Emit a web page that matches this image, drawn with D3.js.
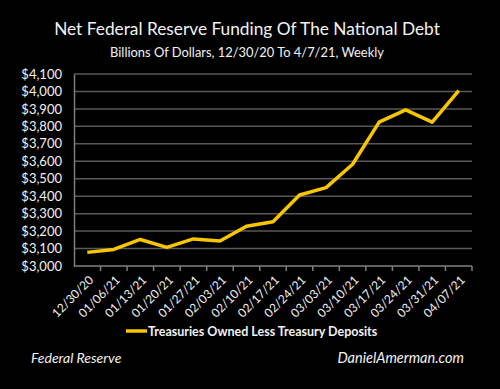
<!DOCTYPE html>
<html lang="en">
    <head>
        <meta charset="utf-8">
        <title>Net Federal Reserve Funding</title>
        <script type="text/javascript" src="https://cdn.jsdelivr.net/npm/d3@7"></script>
        <style>
            body { margin: 0; background: #000; }
            svg { display: block; font-family: Lato, "Open Sans", sans-serif; }
        </style>
    </head>
    <body>
        <div id="chart"></div>
        <script type="text/javascript">
            //Data
            var weeks = ["12/30/20", "01/06/21", "01/13/21", "01/20/21", "01/27/21", "02/03/21",
                "02/10/21", "02/17/21", "02/24/21", "03/03/21", "03/10/21", "03/17/21",
                "03/24/21", "03/31/21", "04/07/21"];
            var netFunding = [3078, 3095, 3152, 3107, 3155, 3143, 3228, 3254, 3407, 3449,
                3583, 3824, 3894, 3824, 4005];
            var yTicks = [3000, 3100, 3200, 3300, 3400, 3500, 3600, 3700, 3800, 3900, 4000, 4100];
            var seriesName = "Treasuries Owned Less Treasury Deposits";

            //Width and height ("top" is taken by window.top, so plot* names)
            var w = 500;
            var h = 389;
            var plotL = 74, plotR = 472, plotT = 74, plotB = 266;
            var yellow = "#f7c600";

            var svg = d3.select("#chart").append("svg").attr("width", w).attr("height", h);
            svg.append("rect").attr("width", w).attr("height", h).attr("fill", "#000");

            var x = d3.scaleBand().domain(weeks).range([plotL, plotR]);
            var y = d3.scaleLinear().domain([3000, 4100]).range([plotB, plotT]);

            //titles
            svg.append("text").text("Net Federal Reserve Funding Of The National Debt")
                .attr("x", 247).attr("y", 35)
                .attr("text-anchor", "middle").attr("font-size", "17.3px").attr("fill", "#f2f2f2");
            svg.append("text").text("Billions Of Dollars, 12/30/20 To 4/7/21, Weekly")
                .attr("x", 247).attr("y", 57)
                .attr("text-anchor", "middle").attr("font-size", "12.9px").attr("fill", "#f2f2f2");

            //gridlines
            svg.selectAll("line.grid")
                .data(yTicks.slice(1))
                .enter()
                .append("line")
                .attr("class", "grid")
                .attr("x1", plotL).attr("x2", plotR)
                .attr("y1", function(d) { return y(d); })
                .attr("y2", function(d) { return y(d); })
                .attr("stroke", "#595959").attr("stroke-width", 1.5);

            //y axis
            var yAxis = svg.append("g")
                .attr("transform", "translate(" + plotL + ",0)")
                .call(d3.axisLeft(y).tickValues(yTicks).tickSize(0).tickPadding(12)
                    .tickFormat(function(d) { return "$" + d3.format(",")(d); }));
            yAxis.select(".domain").attr("stroke", "#7f7f7f").attr("stroke-width", 1.5);
            yAxis.selectAll("text").attr("fill", "#f2f2f2").attr("font-size", "13px")
                .attr("font-family", "Lato, sans-serif");

            //x axis - ticks sit on the band boundaries
            var xAxis = svg.append("g")
                .attr("transform", "translate(0," + plotB + ")");
            xAxis.append("line")
                .attr("x1", plotL).attr("x2", plotR).attr("y1", 0).attr("y2", 0)
                .attr("stroke", "#7f7f7f").attr("stroke-width", 1.5);
            xAxis.selectAll("line.tick")
                .data(weeks)
                .enter()
                .append("line")
                .attr("class", "tick")
                .attr("x1", function(d) { return x(d) + x.bandwidth(); })
                .attr("x2", function(d) { return x(d) + x.bandwidth(); })
                .attr("y1", 0).attr("y2", 5)
                .attr("stroke", "#7f7f7f").attr("stroke-width", 1.5);
            xAxis.selectAll("text")
                .data(weeks)
                .enter()
                .append("text")
                .text(function(d) { return d; })
                .attr("transform", function(d) {
                    return "translate(" + (x(d) + x.bandwidth() / 2 + 1) + ",9) rotate(-45)";
                })
                .attr("text-anchor", "end")
                .attr("dy", "0.7em")
                .attr("font-size", "12px")
                .attr("fill", "#f2f2f2");

            //the line
            var line = d3.line()
                .x(function(d, i) { return x(weeks[i]) + x.bandwidth() / 2; })
                .y(function(d) { return y(d); });
            svg.append("path")
                .datum(netFunding)
                .attr("d", line)
                .attr("fill", "none")
                .attr("stroke", yellow)
                .attr("stroke-width", 3.5)
                .attr("stroke-linejoin", "round");

            //legend
            svg.append("line")
                .attr("x1", 126).attr("x2", 147).attr("y1", 331).attr("y2", 331)
                .attr("stroke", yellow).attr("stroke-width", 3.5);
            svg.append("text").text(seriesName)
                .attr("x", 148).attr("y", 335.5)
                .attr("font-size", "12.5px").attr("font-weight", "bold").attr("fill", "#f2f2f2");

            //sources
            svg.append("text").text("Federal Reserve")
                .attr("x", 31).attr("y", 363)
                .attr("font-size", "14px").attr("font-style", "italic").attr("fill", "#f2f2f2");
            svg.append("text").text("DanielAmerman.com")
                .attr("x", 464).attr("y", 363).attr("text-anchor", "end")
                .attr("font-size", "14.5px").attr("font-style", "italic").attr("fill", "#f2f2f2");
        </script>
    </body>
</html>
